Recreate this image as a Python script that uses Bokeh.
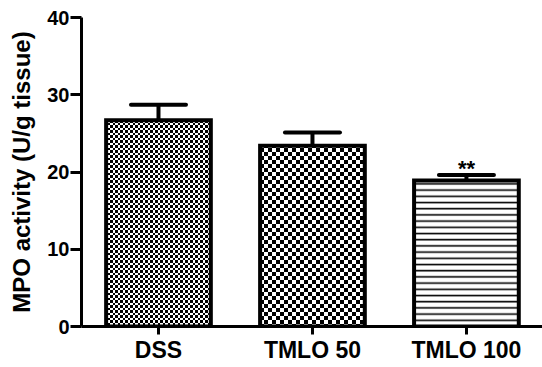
import zlib, struct, base64
from bokeh.plotting import figure
from bokeh.models import (Range1d, FixedTicker, Whisker, TeeHead, ColumnDataSource,
                          ImageURLTexture)
from bokeh.core.properties import value
from bokeh.embed import file_html
from bokeh.resources import INLINE

# ---- data ----
categories = ["DSS", "TMLO 50", "TMLO 100"]
means = [26.7, 23.4, 18.9]
errors = [2.0, 1.7, 0.7]
significance = ["", "", "**"]
y_ticks = [0, 10, 20, 30, 40]
y_title = "MPO activity (U/g tissue)"

xs = [i + 0.5 for i in range(len(categories))]
upper = [m + e for m, e in zip(means, errors)]

FONT = "Liberation Sans"


def checker_uri(a, b):
    """PNG data-URI of a checker tile: black cell a px, white cell b px."""
    n = a + b
    rows = []
    for y in range(n):
        row = bytearray([0])
        for x in range(n):
            black = (x < a) == (y < a)
            row.append(0 if black else 255)
        rows.append(bytes(row))
    raw = b"".join(rows)

    def chunk(t, d):
        return struct.pack(">I", len(d)) + t + d + struct.pack(">I", zlib.crc32(t + d) & 0xffffffff)

    png = (b"\x89PNG\r\n\x1a\n"
           + chunk(b"IHDR", struct.pack(">IIBBBBB", n, n, 8, 0, 0, 0, 0))
           + chunk(b"IDAT", zlib.compress(raw))
           + chunk(b"IEND", b""))
    return "data:image/png;base64," + base64.b64encode(png).decode()


fine = ImageURLTexture(url=checker_uri(3, 2))
coarse = ImageURLTexture(url=checker_uri(4, 4))

p = figure(frame_width=461, frame_height=309, output_backend="svg", toolbar_location=None,
           x_range=Range1d(0, 2.994), y_range=Range1d(0, 40),
           min_border_left=81, min_border_right=0, min_border_top=17,
           min_border_bottom=0)
p.outline_line_color = None
p.xgrid.visible = False
p.ygrid.visible = False
p.background_fill_color = "white"
p.border_fill_color = "white"

styles = [
    dict(hatch_pattern=value("fine"), hatch_extra={"fine": fine}),
    dict(hatch_pattern=value("coarse"), hatch_extra={"coarse": coarse}),
    dict(hatch_pattern="horizontal_line", hatch_scale=6.2, hatch_weight=1.6),
]

src = ColumnDataSource(dict(x=xs, top=means, upper=upper, sig=significance))

for i in range(len(categories)):
    p.vbar(x=[xs[i]], top=[means[i]], bottom=0, width=0.68,
           fill_color="white", line_color="black", line_width=4,
           line_join="miter", hatch_color="black", **styles[i])

w = Whisker(source=src, base="x", upper="upper", lower="top", dimension="height",
            line_width=4, line_color="black",
            upper_head=TeeHead(size=55, line_width=4, line_color="black", line_cap="round"),
            lower_head=None, level="overlay")
p.add_layout(w)

p.text(x="x", y="upper", text="sig", source=src, text_font=value(FONT),
       text_font_style="bold", text_font_size="22px", text_align="center",
       text_baseline="alphabetic", text_color="black", y_offset=-7)

# axes
for ax in (p.xaxis[0], p.yaxis[0]):
    ax.axis_line_width = 3
    ax.axis_line_color = "black"
    ax.major_tick_line_width = 3
    ax.major_tick_line_color = "black"
    ax.major_tick_in = 0
    ax.minor_tick_line_color = None
    ax.major_label_text_font = FONT
    ax.major_label_text_font_style = "bold"
    ax.major_label_text_color = "black"

p.yaxis.ticker = FixedTicker(ticks=y_ticks)
p.yaxis.major_tick_out = 11
p.yaxis.major_label_standoff = 1
p.yaxis.major_label_text_font_size = "20px"
p.yaxis.axis_label = y_title
p.yaxis.axis_label_text_font = FONT
p.yaxis.axis_label_text_font_style = "bold"
p.yaxis.axis_label_text_font_size = "24px"
p.yaxis.axis_label_text_color = "black"
p.yaxis.axis_label_standoff = 9

p.xaxis.ticker = FixedTicker(ticks=xs)
p.xaxis.major_label_overrides = {x: c for x, c in zip(xs, categories)}
p.xaxis.major_tick_out = 8
p.xaxis.major_label_standoff = 2
p.xaxis.major_label_text_font_size = "23px"

open("out.html", "w").write(file_html(p, INLINE))
